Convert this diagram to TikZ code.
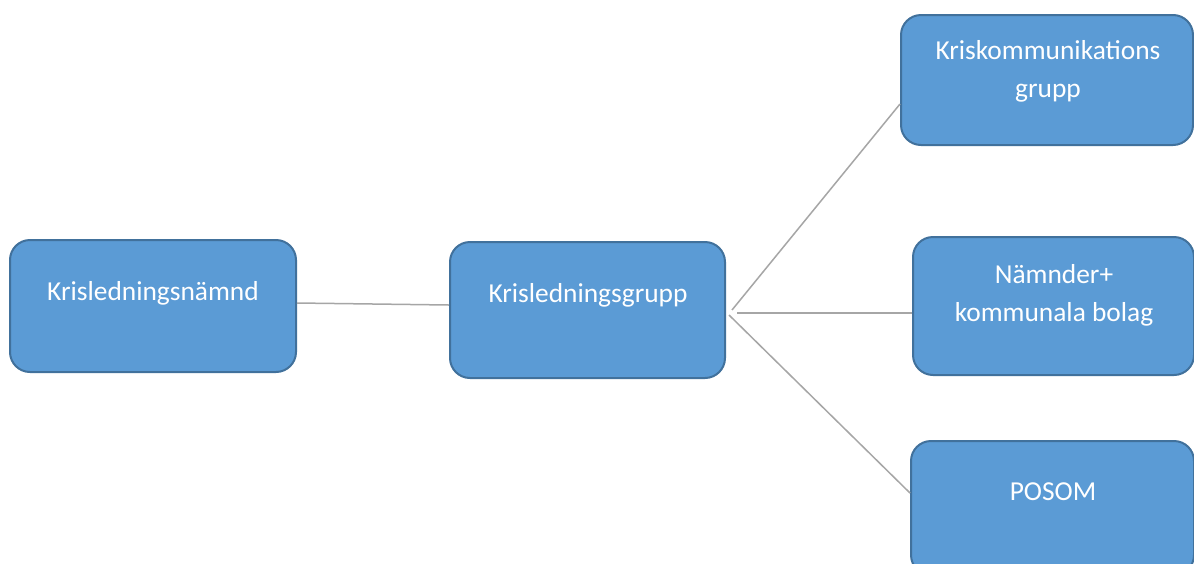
\documentclass[tikz,border=0pt]{standalone}
\usepackage{fontspec}
\setmainfont{Carlito}
\definecolor{boxfill}{HTML}{5B9BD5}
\definecolor{boxline}{HTML}{41719C}
\definecolor{conn}{HTML}{A6A6A6}
\begin{document}
\begin{tikzpicture}[x=1pt,y=-1pt,
  box/.style={draw=boxline, line width=2pt, fill=boxfill, rounded corners=20pt,
    rectangle, inner sep=0pt},
  txt/.style={text=white, font=\fontsize{27.4}{38}\selectfont, align=center, inner sep=0pt},
  conline/.style={draw=conn, line width=1.5pt}]
\useasboundingbox (0,0) rectangle (1194,563);
\clip (0,0) rectangle (1194,563);
\fill[white] (0,0) rectangle (1194,563);
% boxes
\node[box, minimum width=286pt, minimum height=132pt] (A) at (153,306) {};
\node[box, minimum width=275pt, minimum height=136pt] (B) at (587.5,310) {};
\node[box, minimum width=292pt, minimum height=130pt] (C) at (1047,80) {};
\node[box, minimum width=281pt, minimum height=138pt] (D) at (1053.5,306) {};
\node[box, minimum width=283pt, minimum height=134pt] (E) at (1052.5,508) {};
% texts
\node[txt, anchor=base] (tA) at (153,300) {Krisledningsnämnd};
\node[txt, anchor=base] (tB) at (588,302) {Krisledningsgrupp};
\node[txt, anchor=base] (tC) at (1048,97) {Kriskommunikations\\grupp};
\node[txt, anchor=base] (tD) at (1054,321) {Nämnder+\\kommunala bolag};
\node[txt, anchor=base] (tE) at (1053,500) {POSOM};
% connectors
\coordinate (h1) at (732,310);
\coordinate (h2) at (737,313);
\coordinate (h3) at (729,315);
\draw[conline] ([yshift=3pt]A.east) -- ([yshift=5pt]B.west);
\draw[conline] (h1) -- ([yshift=-24pt]C.west);
\draw[conline] (h2) -- ([yshift=-7pt]D.west);
\draw[conline] (h3) -- ([yshift=15pt]E.west);
\end{tikzpicture}
\end{document}
